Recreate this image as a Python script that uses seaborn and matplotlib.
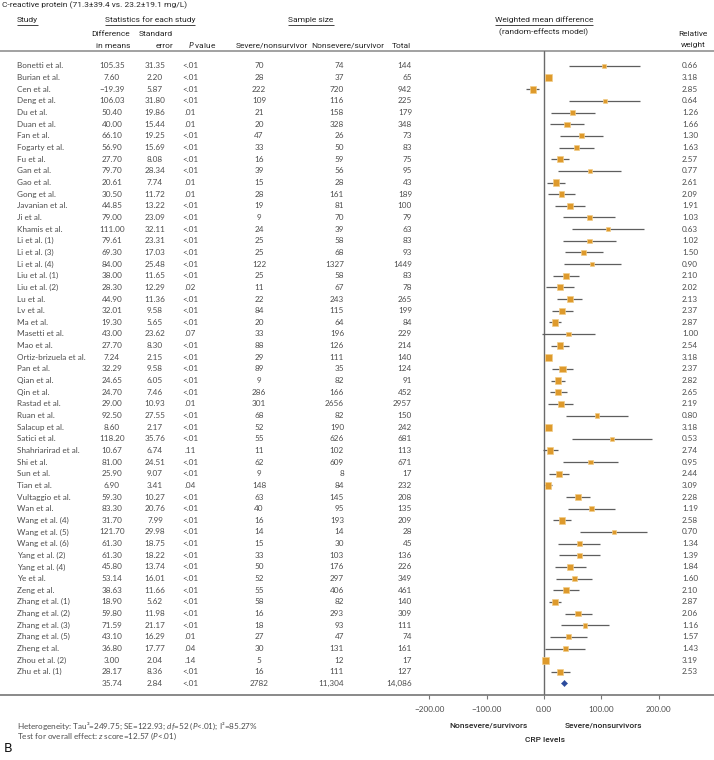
import numpy as np
import pandas as pd
import matplotlib
matplotlib.use('Agg')
import matplotlib.pyplot as plt
import seaborn as sns

# ---- data ----
studies = ["Bonetti et al.", "Burian et al.", "Cen et al.", "Deng et al.", "Du et al.", "Duan et al.",
           "Fan et al.", "Fogarty et al.", "Fu et al.", "Gan et al.", "Gao et al.", "Gong et al.",
           "Javanian et al.", "Ji et al.", "Khamis et al.", "Li et al. (1)", "Li et al. (3)", "Li et al. (4)",
           "Liu et al. (1)", "Liu et al. (2)", "Lu et al.", "Lv et al.", "Ma et al.", "Masetti et al.",
           "Mao et al.", "Ortiz-brizuela et al.", "Pan et al.", "Qian et al.", "Qin et al.", "Rastad et al.",
           "Ruan et al.", "Salacup et al.", "Satici et al.", "Shahriarirad et al.", "Shi et al.", "Sun et al.",
           "Tian et al.", "Vultaggio et al.", "Wan et al.", "Wang et al. (4)", "Wang et al. (5)",
           "Wang et al. (6)", "Yang et al. (2)", "Yang et al. (4)", "Ye et al.", "Zeng et al.",
           "Zhang et al. (1)", "Zhang et al. (2)", "Zhang et al. (3)", "Zhang et al. (5)", "Zheng et al.",
           "Zhou et al. (2)", "Zhu et al. (1)"]
diff = [105.35, 7.60, -19.39, 106.03, 50.40, 40.00, 66.10, 56.90, 27.70, 79.70, 20.61, 30.50,
        44.85, 79.00, 111.00, 79.61, 69.30, 84.00, 38.00, 28.30, 44.90, 32.01, 19.30, 43.00,
        27.70, 7.24, 32.29, 24.65, 24.70, 29.00, 92.50, 8.60, 118.20, 10.67, 81.00, 25.90,
        6.90, 59.30, 83.30, 31.70, 121.70, 61.30, 61.30, 45.80, 53.14, 38.63, 18.90, 59.80,
        71.59, 43.10, 36.80, 3.00, 28.17]
se = [31.35, 2.20, 5.87, 31.80, 19.86, 15.44, 19.25, 15.69, 8.08, 28.34, 7.74, 11.72,
      13.22, 23.09, 32.11, 23.31, 17.03, 25.48, 11.65, 12.29, 11.36, 9.58, 5.65, 23.62,
      8.30, 2.15, 9.58, 6.05, 7.46, 10.93, 27.55, 2.17, 35.76, 6.74, 24.51, 9.07,
      3.41, 10.27, 20.76, 7.99, 29.98, 18.75, 18.22, 13.74, 16.01, 11.66, 5.62, 11.98,
      21.17, 16.29, 17.77, 2.04, 8.36]
pvals = ["<.01", "<.01", "<.01", "<.01", ".01", ".01", "<.01", "<.01", "<.01", "<.01", ".01", ".01",
         "<.01", "<.01", "<.01", "<.01", "<.01", "<.01", "<.01", ".02", "<.01", "<.01", "<.01", ".07",
         "<.01", "<.01", "<.01", "<.01", "<.01", ".01", "<.01", "<.01", "<.01", ".11", "<.01", "<.01",
         ".04", "<.01", "<.01", "<.01", "<.01", "<.01", "<.01", "<.01", "<.01", "<.01", "<.01", "<.01",
         "<.01", ".01", ".04", ".14", "<.01"]
n_severe = [70, 28, 222, 109, 21, 20, 47, 33, 16, 39, 15, 28, 19, 9, 24, 25, 25, 122, 25, 11, 22, 84,
            20, 33, 88, 29, 89, 9, 286, 301, 68, 52, 55, 11, 62, 9, 148, 63, 40, 16, 14, 15, 33, 50,
            52, 55, 58, 16, 18, 27, 30, 5, 16]
n_nonsevere = [74, 37, 720, 116, 158, 328, 26, 50, 59, 56, 28, 161, 81, 70, 39, 58, 68, 1327, 58, 67,
               243, 115, 64, 196, 126, 111, 35, 82, 166, 2656, 82, 190, 626, 102, 609, 8, 84, 145, 95,
               193, 14, 30, 103, 176, 297, 406, 82, 293, 93, 47, 131, 12, 111]
n_total = [144, 65, 942, 225, 179, 348, 73, 83, 75, 95, 43, 189, 100, 79, 63, 83, 93, 1449, 83, 78,
           265, 199, 84, 229, 214, 140, 124, 91, 452, 2957, 150, 242, 681, 113, 671, 17, 232, 208, 135,
           209, 28, 45, 136, 226, 349, 461, 140, 309, 111, 74, 161, 17, 127]
weights = [0.66, 3.18, 2.85, 0.64, 1.26, 1.66, 1.30, 1.63, 2.57, 0.77, 2.61, 2.09, 1.91, 1.03, 0.63,
           1.02, 1.50, 0.90, 2.10, 2.02, 2.13, 2.37, 2.87, 1.00, 2.54, 3.18, 2.37, 2.82, 2.65, 2.19,
           0.80, 3.18, 0.53, 2.74, 0.95, 2.44, 3.09, 2.28, 1.19, 2.58, 0.70, 1.34, 1.39, 1.84, 1.60,
           2.10, 2.87, 2.06, 1.16, 1.57, 1.43, 3.19, 2.53]
pooled = [35.74, 2.84, "<.01", "2782", "11,304", "14,086"]
xticks = [-200, -100, 0, 100, 200]

# ---- style ----
sns.set_style('white')
plt.rcParams['font.family'] = ['Lato', 'DejaVu Sans']
plt.rcParams['mathtext.fontset'] = 'custom'
plt.rcParams['mathtext.rm'] = 'Lato'
plt.rcParams['mathtext.it'] = 'Lato:italic'

body_c = '#4d4d4d'
head_c = '#262626'
head_font = ['Roboto', 'DejaVu Sans']
fs = 5.9
hfs = 6.0


def fmt(v):
    return f"{v:.2f}".replace('-', '\u2212')


def row_y(i):
    return 66 + 11.65 * i


def head(x, y, s, ha='center', **kw):
    return tab.text(x, y, s, fontsize=hfs, family=head_font, color=head_c, va='center', ha=ha, **kw)


fig = plt.figure(figsize=(7.14, 7.6), dpi=100)
tab = fig.add_axes([0, 0, 1, 1])
tab.set_xlim(0, 714)
tab.set_ylim(760, 0)
tab.axis('off')

# title and headers
head(2, 5, "C-reactive protein (71.3\u00b139.4 vs. 23.2\u00b119.1 mg/L)", ha='left')
underlined = [
    head(17, 20, "Study", ha='left'),
    head(150, 20, "Statistics for each study"),
    head(311, 20, "Sample size"),
    head(544, 20, "Weighted mean difference"),
]
head(544, 32, "(random-effects model)")

head(130, 34, "Difference", ha='right')
head(130, 45.5, "in means", ha='right')
head(173, 34, "Standard", ha='right')
head(173, 45.5, "error", ha='right')
head(216, 45.5, "$\\mathit{P}$ value", ha='right')
head(272, 45.5, "Severe/nonsurvivor")
head(348, 45.5, "Nonsevere/survivor")
head(411, 45.5, "Total", ha='right')
head(693, 34, "Relative")
head(693, 45.5, "weight")

# horizontal rules
tab.hlines(51, 0, 714, color='#9a9a9a', lw=1.3)
tab.hlines(695, 0, 714, color='#6a6a6a', lw=1.1)

# table body
for i, name in enumerate(studies):
    y = row_y(i)
    tab.text(17, y, name, fontsize=fs, color=body_c, va='center', ha='left')
    tab.text(112, y, fmt(diff[i]), fontsize=fs, color=body_c, va='center', ha='center')
    tab.text(155, y, fmt(se[i]), fontsize=fs, color=body_c, va='center', ha='center')
    tab.text(190, y, pvals[i], fontsize=fs, color=body_c, va='center', ha='center')
    tab.text(259, y, str(n_severe[i]), fontsize=fs, color=body_c, va='center', ha='center')
    tab.text(344, y, str(n_nonsevere[i]), fontsize=fs, color=body_c, va='center', ha='right')
    tab.text(412, y, str(n_total[i]), fontsize=fs, color=body_c, va='center', ha='right')
    tab.text(690, y, fmt(weights[i]), fontsize=fs, color=body_c, va='center', ha='center')

ys = row_y(len(studies))
tab.text(112, ys, fmt(pooled[0]), fontsize=fs, color=body_c, va='center', ha='center')
tab.text(155, ys, fmt(pooled[1]), fontsize=fs, color=body_c, va='center', ha='center')
tab.text(190, ys, pooled[2], fontsize=fs, color=body_c, va='center', ha='center')
tab.text(259, ys, pooled[3], fontsize=fs, color=body_c, va='center', ha='center')
tab.text(344, ys, pooled[4], fontsize=fs, color=body_c, va='center', ha='right')
tab.text(412, ys, pooled[5], fontsize=fs, color=body_c, va='center', ha='right')

# footer
tab.text(17, 726, "Heterogeneity: Tau\u00b2=249.75; SE=122.93; $\\mathit{df}$=52 ($\\mathit{P}$<.01); I\u00b2=85.27%",
         fontsize=fs, color=body_c, va='center', ha='left')
tab.text(17, 736, "Test for overall effect: $\\mathit{z}$ score=12.57 ($\\mathit{P}$<.01)",
         fontsize=fs, color=body_c, va='center', ha='left')
tab.text(4, 748, "B", fontsize=9, family=['DejaVu Sans'], color='#111111', va='center', ha='left')
head(489, 725, "Nonsevere/survivors", weight='medium')
head(603, 725, "Severe/nonsurvivors", weight='medium')
head(545, 740, "CRP levels", weight='medium')

# ---- forest axes ----
px0, px_per = 544, 0.573
left_px, right_px, top_px, bot_px = 362, 714, 51, 695
ax = fig.add_axes([left_px / 714, (760 - bot_px) / 760, (right_px - left_px) / 714, (bot_px - top_px) / 760])
ax.patch.set_alpha(0)

df = pd.DataFrame({'row': np.arange(len(studies)), 'diff': diff, 'se': se, 'weight': weights})
df['lo'] = df['diff'] - 1.96 * df['se']
df['hi'] = df['diff'] + 1.96 * df['se']

ax.hlines(df['row'], df['lo'], df['hi'], color='#5e5e5e', lw=0.9, zorder=2)
sns.scatterplot(data=df, x='diff', y='row', size='weight', sizes=(7, 25), marker='s',
                color='#DE9A2C', edgecolor='#F2CC88', linewidth=0.5, legend=False, ax=ax, zorder=3)
sns.scatterplot(x=[pooled[0]], y=[len(studies)], marker='D', color='#2A4A9C', s=10,
                edgecolor='#2A4A9C', linewidth=0.3, ax=ax, zorder=4)
ax.axvline(0, color='#6a6a6a', lw=1.0, zorder=1)

ax.set_xlim((left_px - px0) / px_per, (right_px - px0) / px_per)
ax.set_ylim((bot_px - 66) / 11.65, (top_px - 66) / 11.65)
ax.set_xticks(xticks)
ax.set_xticklabels([fmt(t) for t in xticks])
ax.set_yticks([])
ax.set_xlabel('')
ax.set_ylabel('')
ax.grid(False)
for s in ax.spines.values():
    s.set_visible(False)
ax.tick_params(axis='x', bottom=True, length=3, width=0.8, color='#777777', pad=5,
               labelsize=fs, labelcolor=body_c)

# underline headers using the rendered text extents
fig.canvas.draw()
renderer = fig.canvas.get_renderer()
inv = tab.transData.inverted()
for t in underlined:
    bb = t.get_window_extent(renderer)
    (x0, _), (x1, _) = inv.transform([(bb.x0, bb.y0), (bb.x1, bb.y0)])
    tab.hlines(24.5, x0, x1, color=head_c, lw=0.6)

fig.savefig('out.png', dpi=100)
